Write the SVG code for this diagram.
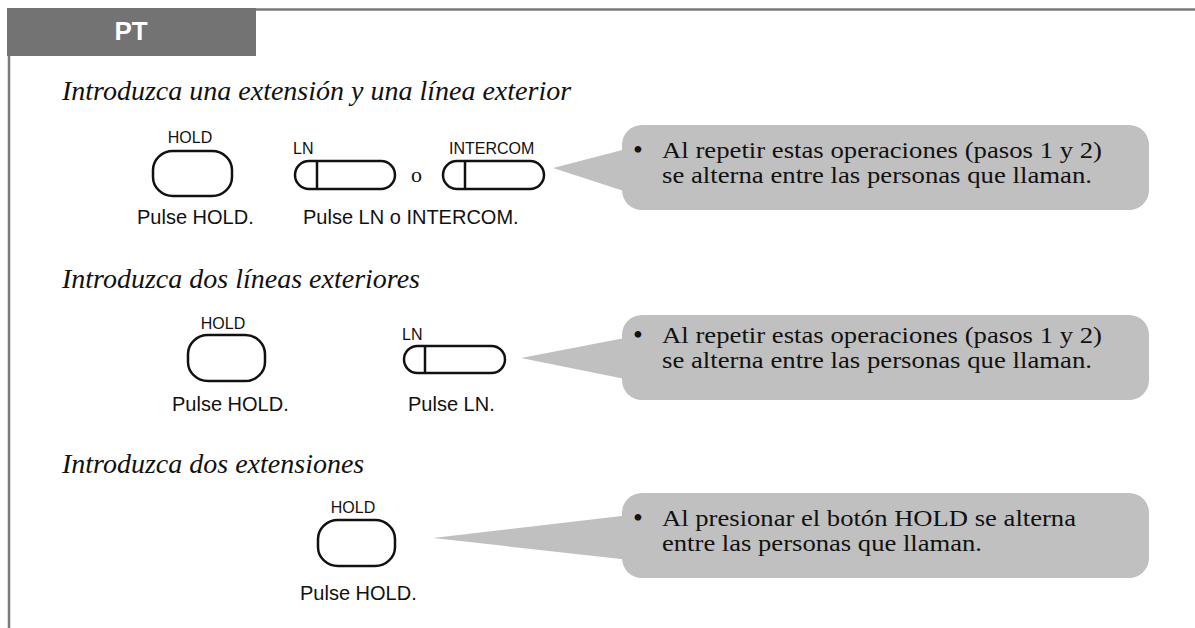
<svg xmlns="http://www.w3.org/2000/svg" width="1195" height="628" viewBox="0 0 1195 628">
<style>
.frame{stroke:#7a7a7a;stroke-width:2.5;fill:none}
.title{font-family:"Liberation Serif",serif;font-style:italic;font-size:28px;fill:#111}
.lbl{font-family:"Liberation Sans",Arial,sans-serif;font-size:16px;fill:#111}
.cap{font-family:"Liberation Sans",Arial,sans-serif;font-size:20px;fill:#111}
.btn{fill:#fff;stroke:#111;stroke-width:2.5}
.div{stroke:#111;stroke-width:2.5}
.call{fill:#c0c0c0}
.ct{font-family:"Liberation Serif",serif;font-size:23.5px;fill:#111}
.bul{font-family:"Liberation Serif",serif;font-size:28px;fill:#111}
</style>
<rect width="1195" height="628" fill="#fff"/>
<g id="frame">
<line class="frame" x1="256" y1="9.5" x2="1195" y2="9.5"/>
<line class="frame" x1="9" y1="56" x2="9" y2="628"/>
<rect x="7" y="8" width="249" height="48" fill="#737373"/>
<text x="131" y="40" text-anchor="middle" font-family="Liberation Sans,Arial,sans-serif" font-weight="bold" font-size="26" fill="#fff">PT</text>
</g>
<text class="title" x="62" y="100">Introduzca una extensión y una línea exterior</text>
<text class="title" x="62" y="288">Introduzca dos líneas exteriores</text>
<text class="title" x="62" y="473">Introduzca dos extensiones</text>

<g id="hold1">
<text class="lbl" x="190" y="143" text-anchor="middle">HOLD</text>
<rect class="btn" x="153" y="151" width="79" height="45" rx="20" ry="19"/>
<text class="cap" x="137" y="224">Pulse HOLD.</text>
</g>
<g id="ln1">
<text class="lbl" x="293" y="154">LN</text>
<rect class="btn" x="295" y="161" width="100" height="28" rx="14"/>
<line class="div" x1="317" y1="161" x2="317" y2="189"/>
</g>
<text x="411" y="182" font-family="Liberation Serif,serif" font-size="22" fill="#111">o</text>
<g id="intercom1">
<text class="lbl" x="449" y="154">INTERCOM</text>
<rect class="btn" x="443" y="161" width="101" height="28" rx="14"/>
<line class="div" x1="465" y1="161" x2="465" y2="189"/>
</g>
<text class="cap" x="303" y="224">Pulse LN o INTERCOM.</text>

<g id="hold2">
<text class="lbl" x="223" y="329" text-anchor="middle">HOLD</text>
<rect class="btn" x="188" y="335" width="77" height="46" rx="20" ry="19"/>
<text class="cap" x="172" y="411">Pulse HOLD.</text>
</g>
<g id="ln2">
<text class="lbl" x="402" y="340">LN</text>
<rect class="btn" x="404" y="346" width="101" height="27" rx="13.5"/>
<line class="div" x1="425" y1="346" x2="425" y2="373"/>
<text class="cap" x="408" y="411">Pulse LN.</text>
</g>

<g id="hold3">
<text class="lbl" x="353" y="513" text-anchor="middle">HOLD</text>
<rect class="btn" x="318" y="520" width="77" height="46" rx="20" ry="19"/>
<text class="cap" x="300" y="600">Pulse HOLD.</text>
</g>

<g id="callout1">
<polygon class="call" points="553,168 630,148 630,193"/>
<rect class="call" x="622" y="125" width="527" height="85" rx="20"/>
<text class="bul" x="633" y="159">•</text>
<text class="ct" x="662" y="158" textLength="440" lengthAdjust="spacingAndGlyphs">Al repetir estas operaciones (pasos 1 y 2)</text>
<text class="ct" x="662" y="183" textLength="430" lengthAdjust="spacingAndGlyphs">se alterna entre las personas que llaman.</text>
</g>
<g id="callout2">
<polygon class="call" points="521,358 630,337 630,380"/>
<rect class="call" x="622" y="315" width="527" height="85" rx="20"/>
<text class="bul" x="633" y="344">•</text>
<text class="ct" x="662" y="343" textLength="440" lengthAdjust="spacingAndGlyphs">Al repetir estas operaciones (pasos 1 y 2)</text>
<text class="ct" x="662" y="368" textLength="430" lengthAdjust="spacingAndGlyphs">se alterna entre las personas que llaman.</text>
</g>
<g id="callout3">
<polygon class="call" points="433,538 630,515 630,560"/>
<rect class="call" x="622" y="493" width="527" height="85" rx="20"/>
<text class="bul" x="633" y="527">•</text>
<text class="ct" x="662" y="526" textLength="414" lengthAdjust="spacingAndGlyphs">Al presionar el botón HOLD se alterna</text>
<text class="ct" x="662" y="551" textLength="320" lengthAdjust="spacingAndGlyphs">entre las personas que llaman.</text>
</g>
</svg>
